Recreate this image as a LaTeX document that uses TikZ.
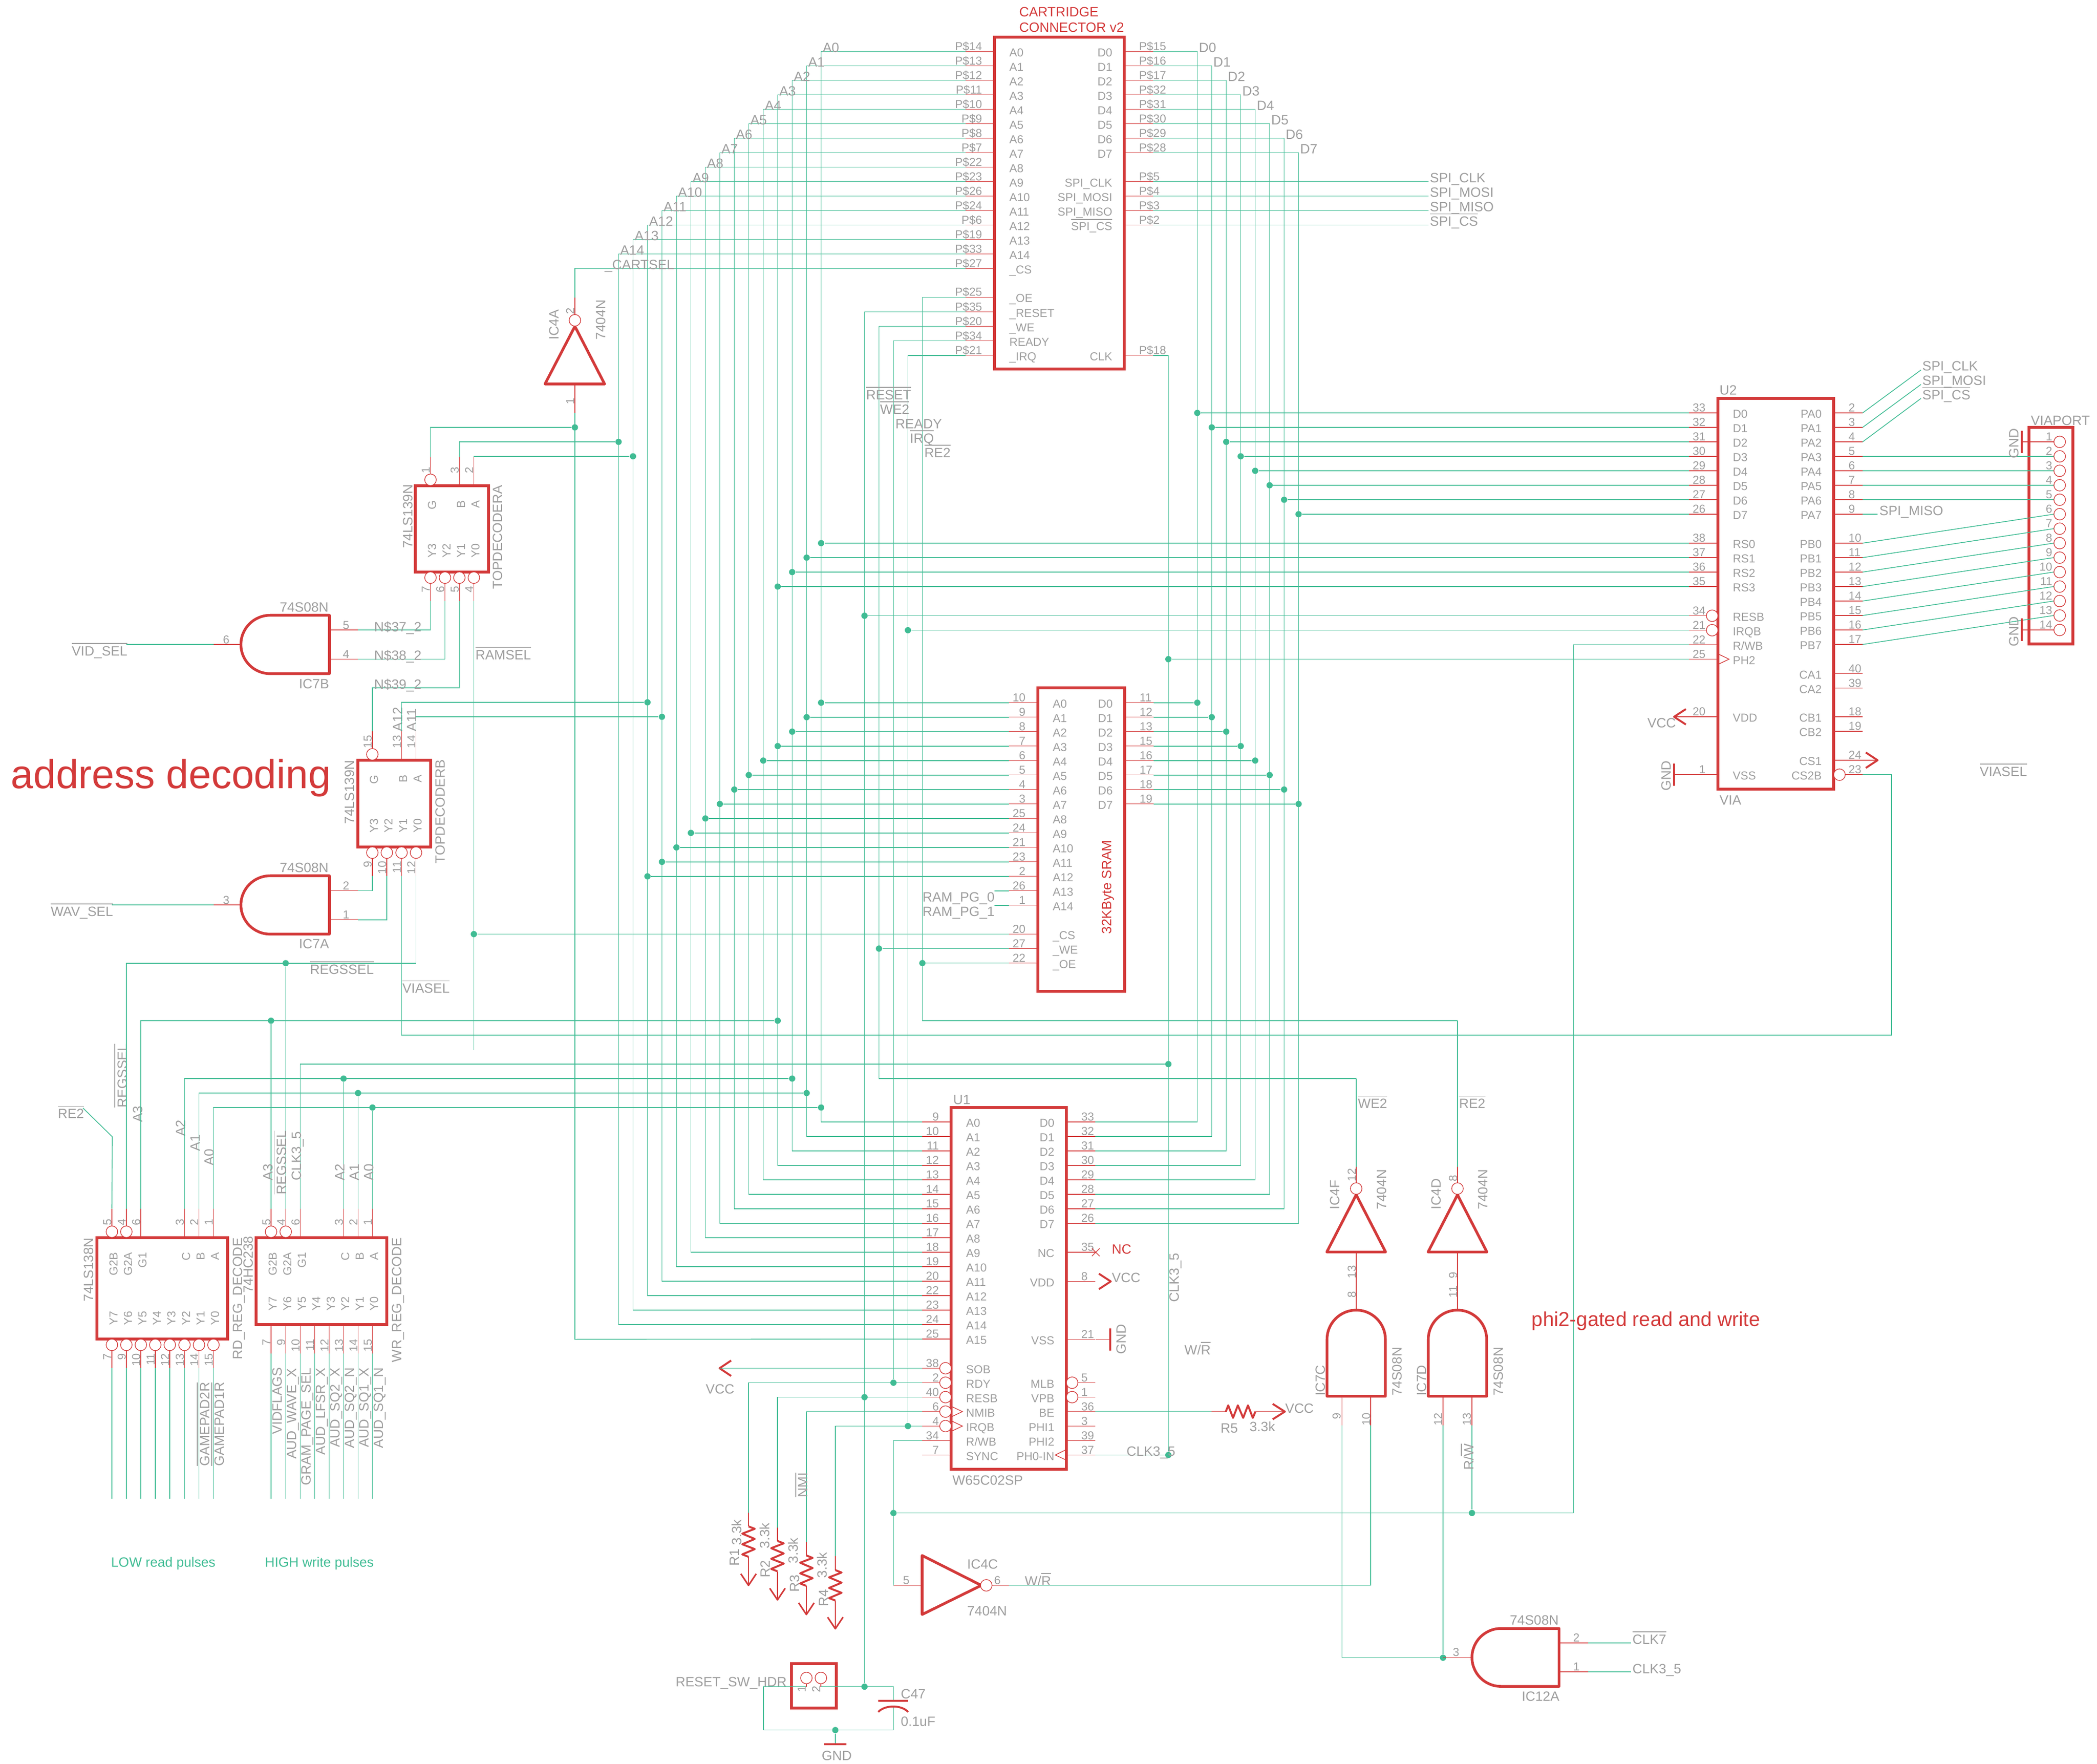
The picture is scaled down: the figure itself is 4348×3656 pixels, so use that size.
\documentclass[tikz,border=0pt]{standalone}
\usepackage{fontspec}
\setmainfont{Liberation Sans}
\definecolor{schred}{RGB}{211,58,58}
\definecolor{schgray}{RGB}{158,158,158}
\definecolor{wiregreen}{RGB}{64,188,148}
\tikzset{
	icbox/.style={draw=schred,line width=1.5pt,line join=miter},
	gatebody/.style={draw=schred,line width=1.4pt,line join=round},
	sym/.style={draw=schred,line width=1pt,line join=round},
	pinline/.style={draw=schred,line width=.35pt},
	wire/.style={draw=wiregreen,line width=.4pt},
	junc/.style={circle,fill=wiregreen,inner sep=0pt,minimum size=3.25pt},
	pintxt/.style={font=\fontsize{6}{7}\selectfont,text=schgray,inner sep=0pt,text height=4.3pt,text depth=0pt},
	nettxt/.style={font=\fontsize{7}{8}\selectfont,text=schgray,inner sep=0pt,text height=5pt,text depth=0pt},
	redtxt/.style={font=\fontsize{7}{8}\selectfont,text=schred,inner sep=0pt,text height=5pt,text depth=0pt},
	greentxt/.style={font=\fontsize{7}{8}\selectfont,text=wiregreen,inner sep=0pt,text height=5pt,text depth=0pt},
	vert/.style={rotate=90,anchor=west}
}
\newcommand{\ovl}[1]{$\overline{\hbox{#1}}$}
% id, box edge, row, name, number
\newcommand{\lpin}[5]{
	\coordinate (#1) at (#2-60,#3);
	\draw[pinline] (#2,#3) -- (#1);
	\node[pintxt,anchor=east] (#1n) at (#2-25,#3-11) {#5};
	\node[pintxt,anchor=west] (#1t) at (#2+30,#3+2) {#4};
}
\newcommand{\rpin}[5]{
	\coordinate (#1) at (#2+60,#3);
	\draw[pinline] (#2,#3) -- (#1);
	\node[pintxt,anchor=west] (#1n) at (#2+30,#3-11) {#5};
	\node[pintxt,anchor=east] (#1t) at (#2-24,#3+2) {#4};
}
% id, pin x, box edge, number, name
\newcommand{\tpin}[5]{
	\coordinate (#1) at (#2,#3-60);
	\draw[pinline] (#2,#3) -- (#1);
	\node[pintxt,vert] (#1n) at (#2-10,#3-24) {#4};
	\node[pintxt,rotate=90,anchor=east] (#1t) at (#2+3,#3+30) {#5};
}
\newcommand{\bpin}[5]{
	\coordinate (#1) at (#2,#3+60);
	\draw[pinline] (#2,#3) -- (#1);
	\node[pintxt,rotate=90,anchor=east] (#1n) at (#2-10,#3+29) {#4};
	\node[pintxt,vert] (#1t) at (#2+3,#3-28) {#5};
}
\newcommand{\bub}[2]{\draw[pinline,fill=white] (#1,#2) circle[radius=3pt];}
\newcommand{\clkl}[2]{\draw[pinline] (#1,#2-11) -- (#1+23,#2) -- (#1,#2+11);}
% left pointing and gate: right edge, centre row
\newcommand{\andl}[2]{\draw[gatebody] (#1-123,#2-60.5) -- (#1,#2-60.5) -- (#1,#2+60.5) -- (#1-123,#2+60.5) arc[start angle=270,end angle=90,radius=15.12pt];}
% up pointing and gate: centre x
\newcommand{\andu}[1]{\draw[gatebody] (#1-60.5,2894.6) -- (#1-60.5,2776.5) arc[start angle=180,end angle=0,radius=15.12pt] -- (#1+60.5,2894.6) -- cycle;}
\newcommand{\vres}[2]{\draw[sym,shift={(#1,#2)}] (0,0) -- (13,5) -- (-13,15) -- (13,26) -- (-13,37) -- (13,47) -- (-13,58) -- (0,63);}
\begin{document}
\begin{tikzpicture}[x=0.25pt,y=-0.25pt]
	\useasboundingbox (0,0) rectangle (4348,3656);

	% cartridge connector
	\draw[icbox] (2062,76.5) rectangle (2331,765);
	\node[redtxt,anchor=west] (cartname1) at (2112.5,24.5) {CARTRIDGE};
	\node[redtxt,anchor=west] (cartname2) at (2112.5,56) {CONNECTOR v2};
	\foreach \pnum [count=\i from 0, evaluate=\i as \py using 106.6+30*\i] in {14,13,12,11,10,9,8,7,22,23,26,24,6,19,33}
		\lpin{cartA\i}{2062}{\py}{A\i}{P\$\pnum};
	\foreach \nm/\pnum/\py/\id in {\_CS/27/556.6/cs,\_OE/25/616.3/oe,\_RESET/35/646.4/res,\_WE/20/676.5/we,READY/34/706.6/rdy,\_IRQ/21/736.7/irq}
		\lpin{cart\id}{2062}{\py}{\nm}{P\$\pnum};
	\foreach \pnum [count=\i from 0, evaluate=\i as \py using 106.6+30*\i] in {15,16,17,32,31,30,29,28}
		\rpin{cartD\i}{2331}{\py}{D\i}{P\$\pnum};
	\foreach \nm/\pnum/\py/\id in {SPI\_CLK/5/376.6/clk,SPI\_MOSI/4/406.6/mosi,SPI\_MISO/3/436.6/miso,\ovl{SPI\_CS}/2/466.6/spics,CLK/18/736.7/phi}
		\rpin{cart\id}{2331}{\py}{\nm}{P\$\pnum};
	\foreach \nm/\id [count=\i from 0, evaluate=\i as \py using 376.6+30*\i] in {SPI\_CLK/clk,SPI\_MOSI/mosi,SPI\_MISO/miso,\ovl{SPI\_CS}/spics}{
		\node[nettxt,anchor=west] (spil\i) at (2964,\py-8) {\nm};
		\coordinate (spie\i) at (2962,\py);
		\draw[wire] (cart\id) -- (spie\i);
	}

	% sram
	\draw[icbox] (2152,1425.8) rectangle (2332,2055);
	\node[redtxt,vert] (sramname) at (2294,1937) {32KByte SRAM};
	\foreach \pnum [count=\i from 0, evaluate=\i as \py using 1456.7+30*\i] in {10,9,8,7,6,5,4,3,25,24,21,23,2,26,1}
		\lpin{sA\i}{2152}{\py}{A\i}{\pnum};
	\foreach \pnum [count=\i from 0, evaluate=\i as \py using 1456.7+30*\i] in {11,12,13,15,16,17,18,19}
		\rpin{sD\i}{2332}{\py}{D\i}{\pnum};
	\lpin{scs}{2152}{1936.5}{\_CS}{20}
	\lpin{swe}{2152}{1966.5}{\_WE}{27}
	\lpin{soe}{2152}{1996.6}{\_OE}{22}
	\coordinate (pg0) at (2062,1846.7);
	\coordinate (pg1) at (2062,1876.7);
	\draw[wire] (sA13) -- (pg0);
	\draw[wire] (sA14) -- (pg1);
	\node[nettxt,anchor=east] (pg0l) at (2063,1859) {RAM\_PG\_0};
	\node[nettxt,anchor=east] (pg1l) at (2063,1889) {RAM\_PG\_1};

	% 6502
	\draw[icbox] (1972.4,2295.7) rectangle (2211,3045.7);
	\node[nettxt,anchor=west] (u1name) at (1975.5,2279) {U1};
	\node[nettxt,anchor=west] (u1part) at (1974,3068.6) {W65C02SP};
	\foreach \pnum [count=\i from 0, evaluate=\i as \py using 2326+30*\i] in {9,10,11,12,13,14,15,16,17,18,19,20,22,23,24,25}
		\lpin{uA\i}{1972.4}{\py}{A\i}{\pnum};
	\foreach \pnum [count=\i from 0, evaluate=\i as \py using 2326+30*\i] in {33,32,31,30,29,28,27,26}
		\rpin{uD\i}{2211}{\py}{D\i}{\pnum};
	\lpin{usob}{1972.4}{2836.5}{SOB}{38}
	\lpin{urdy}{1972.4}{2866.5}{RDY}{2}
	\lpin{uresb}{1972.4}{2896.4}{RESB}{40}
	\lpin{unmib}{1972.4}{2926.4}{NMIB}{6}
	\lpin{uirqb}{1972.4}{2956.4}{IRQB}{4}
	\lpin{urwb}{1972.4}{2986.4}{R/WB}{34}
	\lpin{usync}{1972.4}{3016.4}{SYNC}{7}
	\foreach \py in {2836.5,2866.5,2896.4,2926.4,2956.4}
		\bub{1960.4}{\py};
	\clkl{1972.4}{2926.4}
	\clkl{1972.4}{2956.4}
	\rpin{unc}{2211}{2596}{NC}{35}
	\rpin{uvdd}{2211}{2656.5}{VDD}{8}
	\rpin{uvss}{2211}{2776.5}{VSS}{21}
	\rpin{umlb}{2211}{2866.5}{MLB}{5}
	\rpin{uvpb}{2211}{2896.4}{VPB}{1}
	\rpin{ube}{2211}{2926.4}{BE}{36}
	\rpin{uphi1}{2211}{2956.4}{PHI1}{3}
	\rpin{uphi2}{2211}{2986.4}{PHI2}{39}
	\rpin{uphi0}{2211}{3016.4}{PH0-IN}{37}
	\bub{2223}{2866.5}
	\bub{2223}{2896.4}
	\draw[pinline] (2211,3005) -- (2188,3016.4) -- (2211,3027);
	\draw[pinline] (2264,2588) -- (2280,2604) (2264,2604) -- (2280,2588);
	\node[redtxt,anchor=west] (ncl) at (2304.6,2589) {NC};
	\draw[sym] (2278.5,2640.5) -- (2303,2656.5) -- (2278.5,2672.5);
	\node[nettxt,anchor=west] (vcc1) at (2304.6,2648) {VCC};
	\draw[sym] (2301.5,2753.6) -- (2301.5,2799.5);
	\draw[pinline] (2272,2776.5) -- (2301.5,2776.5);
	\node[nettxt,rotate=90] (gnd1) at (2324.5,2776) {GND};

	% via
	\draw[icbox] (3562,825.6) rectangle (3802,1636);
	\node[nettxt,anchor=west] (u2name) at (3564.5,808) {U2};
	\node[nettxt,anchor=west] (u2part) at (3564.5,1658) {VIA};
	\foreach \pnum [count=\i from 0, evaluate=\i as \py using 856+30*\i] in {33,32,31,30,29,28,27,26}
		\lpin{vD\i}{3562}{\py}{D\i}{\pnum};
	\foreach \pnum [count=\i from 0, evaluate=\i as \py using 1126+30*\i] in {38,37,36,35}
		\lpin{vRS\i}{3562}{\py}{RS\i}{\pnum};
	\lpin{vresb}{3562}{1276.5}{RESB}{34}
	\lpin{virqb}{3562}{1306.5}{IRQB}{21}
	\lpin{vrwb}{3562}{1336.5}{R/WB}{22}
	\lpin{vph2}{3562}{1366.5}{PH2}{25}
	\lpin{vvdd}{3562}{1486}{VDD}{20}
	\lpin{vvss}{3562}{1606}{VSS}{1}
	\bub{3550}{1276.5}
	\bub{3550}{1306.5}
	\clkl{3562}{1366.5}
	\foreach \pnum [count=\n from 2, evaluate=\n as \i using int(\n-2), evaluate=\n as \py using 856+30*(\n-2)] in {2,3,4,5,6,7,8,9}
		\rpin{vPA\i}{3802}{\py}{PA\i}{\pnum};
	\foreach \pnum [count=\n from 2, evaluate=\n as \i using int(\n-2), evaluate=\n as \py using 1126+30*(\n-2)] in {10,11,12,13,14,15,16,17}
		\rpin{vPB\i}{3802}{\py}{PB\i}{\pnum};
	\rpin{vca1}{3802}{1396.5}{CA1}{40}
	\rpin{vca2}{3802}{1426.5}{CA2}{39}
	\rpin{vcb1}{3802}{1486}{CB1}{18}
	\rpin{vcb2}{3802}{1516}{CB2}{19}
	\rpin{vcs1}{3802}{1576}{CS1}{24}
	\rpin{vcs2}{3802}{1606}{CS2B}{23}
	\bub{3814}{1606}
	\draw[sym] (3868.6,1560) -- (3893,1576) -- (3868.6,1592);
	\draw[pinline] (3862,1576) -- (3893,1576);
	\draw[sym] (3495.5,1470) -- (3471,1486) -- (3495.5,1502);
	\draw[pinline] (3502,1486) -- (3471,1486);
	\node[nettxt,anchor=west] (vcc2) at (3415,1498) {VCC};
	\draw[sym] (3471,1583) -- (3471,1629);
	\draw[pinline] (3502,1606) -- (3471,1606);
	\node[nettxt,rotate=90] (gnd2) at (3454,1608) {GND};
	\node[nettxt,anchor=west] (viasel1) at (4104,1599) {\ovl{VIASEL}};
	\coordinate (spiclk) at (3983,767);
	\coordinate (spimosi) at (3983,797);
	\coordinate (spics) at (3983,826);
	\coordinate (spimiso) at (3893,1066);
	\draw[wire] (vPA0) -- (spiclk);
	\draw[wire] (vPA1) -- (spimosi);
	\draw[wire] (vPA2) -- (spics);
	\draw[wire] (vPA7) -- (spimiso);
	\node[nettxt,anchor=west] (spiclkl) at (3985,758.7) {SPI\_CLK};
	\node[nettxt,anchor=west] (spimosil) at (3985,788.6) {SPI\_MOSI};
	\node[nettxt,anchor=west] (spicsl) at (3985,818.6) {\ovl{SPI\_CS}};
	\node[nettxt,anchor=west] (spimisol) at (3896,1058) {SPI\_MISO};

	% via port
	\draw[icbox] (4207,885.6) rectangle (4298.4,1335);
	\node[nettxt,anchor=west] (vpname) at (4210,871) {VIAPORT};
	\foreach \n [evaluate=\n as \py using 916+30*(\n-1)] in {1,...,14}{
		\coordinate (vp\n) at (4258,\py);
		\node[pintxt,anchor=east] (vp\n n) at (4256,\py-11) {\n};
		\bub{4270.6}{\py}
	}
	\foreach \i [evaluate=\i as \n using int(\i+2)] in {0,1,2,3}{
		\pgfmathtruncatemacro{\k}{\i+3}
		\draw[wire] (vPA\k) -- (vp\n);
	}
	\foreach \i [evaluate=\i as \n using int(\i+6)] in {0,...,7}
		\draw[wire] (vPB\i) -- (vp\n);
	\draw[pinline] (vp1) -- (4192,916);
	\draw[pinline] (vp14) -- (4192,1306);
	\draw[sym] (4192,893) -- (4192,939);
	\draw[sym] (4192,1282) -- (4192,1329);
	\node[nettxt,rotate=90] (gnd3) at (4175,919) {GND};
	\node[nettxt,rotate=90] (gnd4) at (4175,1309) {GND};

	% junctions
	\foreach \i [evaluate=\i as \bx using 1702.5-30*\i, evaluate=\i as \py using 1456.7+30*\i] in {0,...,12}
		\node[junc] (jsA\i) at (\bx,\py) {};
	\foreach \i [evaluate=\i as \bx using 2482.5+30*\i, evaluate=\i as \py using 1456.7+30*\i, evaluate=\i as \vy using 856+30*\i] in {0,...,7}{
		\node[junc] (jsD\i) at (\bx,\py) {};
		\node[junc] (jvD\i) at (\bx,\vy) {};
	}
	\foreach \i [evaluate=\i as \bx using 1702.5-30*\i, evaluate=\i as \py using 1126+30*\i] in {0,...,3}
		\node[junc] (jvR\i) at (\bx,\py) {};
	\node[junc] (jcs) at (1192,886) {};
	\node[junc] (ja14) at (1282.5,916) {};
	\node[junc] (ja13) at (1312.5,946) {};
	\node[junc] (ja12) at (1342.5,1456) {};
	\node[junc] (ja11) at (1372.5,1486) {};
	\node[junc] (jram) at (982.5,1936.5) {};
	\node[junc] (jreg) at (592.4,1996.8) {};
	\node[junc] (jres1) at (1792.5,1276.5) {};
	\node[junc] (jres2) at (1792.5,2896.4) {};
	\node[junc] (jres3) at (1792.5,3496.6) {};
	\node[junc] (jirq1) at (1882.5,1306.5) {};
	\node[junc] (jirq2) at (1882.5,2956.4) {};
	\node[junc] (jrdy) at (1852.5,2866.5) {};
	\node[junc] (jwe) at (1822.5,1966.5) {};
	\node[junc] (joe) at (1912.5,1996.6) {};
	\node[junc] (jclk1) at (2422.5,1366.5) {};
	\node[junc] (jclk2) at (2422.5,2206) {};
	\node[junc] (jclk3) at (2422.5,3016.4) {};
	\node[junc] (jra3) at (1612.5,2116) {};
	\node[junc] (jra2) at (1642.5,2236) {};
	\node[junc] (jra1) at (1672.5,2266) {};
	\node[junc] (jra0) at (1702.5,2296) {};
	\node[junc] (jwa3) at (562,2116) {};
	\node[junc] (jwa2) at (712.4,2236) {};
	\node[junc] (jwa1) at (742.4,2266) {};
	\node[junc] (jwa0) at (772.3,2296) {};
	\node[junc] (jrw1) at (1852.5,3136.6) {};
	\node[junc] (jrw2) at (3052,3136.6) {};
	\node[junc] (jclk7) at (2992,3436.6) {};
	\node[junc] (jgnd) at (1732,3586.6) {};

	% address and data buses
	\foreach \i [evaluate=\i as \bx using 1702.5-30*\i, evaluate=\i as \ty using 106.6+30*\i, evaluate=\i as \uy using 2326+30*\i] in {0,...,14}{
		\coordinate (busA\i) at (\bx,\ty);
		\coordinate (bueA\i) at (\bx,\uy);
		\draw[wire] (cartA\i) -- (busA\i) -- (bueA\i) -- (uA\i);
		\node[nettxt,anchor=west] (lblA\i) at (\bx+2.5,\ty-8) {A\i};
	}
	\foreach \i [evaluate=\i as \bx using 2482.5+30*\i, evaluate=\i as \ty using 106.6+30*\i, evaluate=\i as \uy using 2326+30*\i] in {0,...,7}{
		\coordinate (busD\i) at (\bx,\ty);
		\coordinate (bueD\i) at (\bx,\uy);
		\draw[wire] (cartD\i) -- (busD\i) -- (bueD\i) -- (uD\i);
		\node[nettxt,anchor=west] (lblD\i) at (\bx+2.5,\ty-8) {D\i};
		\draw[wire] (jvD\i) -- (vD\i);
		\draw[wire] (sD\i) -- (jsD\i);
	}
	\foreach \i in {0,...,12}
		\draw[wire] (jsA\i) -- (sA\i);
	\foreach \i in {0,...,3}
		\draw[wire] (jvR\i) -- (vRS\i);

	% cartridge control lines
	\coordinate (csc) at (1192,556.6);
	\coordinate (a15c) at (1192,2776.5);
	\coordinate (oec) at (1912.5,616.3);
	\coordinate (oec2) at (1912.5,2116);
	\coordinate (re2c) at (3022,2116);
	\coordinate (resc) at (1792.5,646.4);
	\coordinate (wec) at (1822.5,676.5);
	\coordinate (wec2) at (1822.5,2236);
	\coordinate (we2c) at (2812,2236);
	\coordinate (rdyc) at (1852.5,706.6);
	\coordinate (irqc) at (1882.5,736.7);
	\coordinate (clkc) at (2422.5,736.7);
	\coordinate (rwc) at (3262.5,3136.6);
	\coordinate (rwc2) at (3262.5,1336.5);
	\coordinate (viac1) at (832.6,2146);
	\coordinate (viac2) at (3922,2146);
	\coordinate (viac3) at (3922,1606);
	\coordinate (ramend) at (982.5,2177);
	\draw[wire] (cartoe) -- (oec) -- (oec2) -- (re2c);
	\draw[wire] (cartres) -- (resc) -- (jres3);
	\draw[wire] (cartwe) -- (wec) -- (wec2) -- (we2c);
	\draw[wire] (cartrdy) -- (rdyc) -- (jrdy);
	\draw[wire] (cartirq) -- (irqc) -- (jirq2);
	\draw[wire] (cartphi) -- (clkc) -- (jclk3) -- (uphi0);
	\draw[wire] (jres1) -- (vresb);
	\draw[wire] (jirq1) -- (virqb);
	\draw[wire] (jclk1) -- (vph2);
	\draw[wire] (jwe) -- (swe);
	\draw[wire] (joe) -- (soe);
	\draw[wire] (jram) -- (scs);
	\draw[wire] (jrw1) -- (rwc) -- (rwc2) -- (vrwb);

	\node[nettxt,anchor=west] (rstl) at (1795,818) {\ovl{RESET}};
	\node[nettxt,anchor=west] (we2l) at (1824,848) {\ovl{WE2}};
	\node[nettxt,anchor=west] (rdyl) at (1855.7,878) {READY};
	\node[nettxt,anchor=west] (irql) at (1885.7,908) {\ovl{IRQ}};
	\node[nettxt,anchor=west] (re2l) at (1915.7,938) {\ovl{RE2}};

	% cartsel inverter
	\draw[gatebody] (1192,676.5) -- (1253.6,796) -- (1130,796) -- cycle;
	\coordinate (ic4a2) at (1192,617);
	\coordinate (ic4a1) at (1192,856);
	\draw[pinline] (1192,652) -- (ic4a2);
	\draw[pinline] (1192,796) -- (ic4a1);
	\bub{1192}{664}
	\node[pintxt,rotate=90] (ic4an2) at (1182,645) {2};
	\node[pintxt,rotate=90] (ic4an1) at (1182,832) {1};
	\node[nettxt,vert] (ic4aname) at (1148,705) {IC4A};
	\node[nettxt,vert] (ic4apart) at (1245,705) {7404N};
	\draw[wire] (cartcs) -- (csc) -- (ic4a2);
	\draw[wire] (ic4a1) -- (a15c) -- (uA15);
	\node[nettxt,anchor=west] (cartsell) at (1253,548.5) {\_CARTSEL};

	% top decoder A
	\draw[icbox] (861,1006.6) rectangle (1012.5,1185.5);
	\tpin{dagn}{892.6}{1006.6}{1}{G}
	\tpin{dab}{952.5}{1006.6}{3}{B}
	\tpin{daa}{982.5}{1006.6}{2}{A}
	\bpin{day3}{892.6}{1185.5}{7}{Y3}
	\bpin{day2}{922.6}{1185.5}{6}{Y2}
	\bpin{day1}{952.5}{1185.5}{5}{Y1}
	\bpin{day0}{982.5}{1185.5}{4}{Y0}
	\bub{892.6}{994.6}
	\foreach \nx in {892.6,922.6,952.5,982.5}
		\bub{\nx}{1197.5};
	\node[nettxt,vert] (dapart) at (845,1137.6) {74LS139N};
	\node[nettxt,vert] (daname) at (1031.6,1222) {TOPDECODERA};
	\node[nettxt,anchor=west] (ramsell) at (985,1357.7) {\ovl{RAMSEL}};

	% top decoder B
	\draw[icbox] (741.5,1575.8) rectangle (892.6,1755.6);
	\tpin{dbgn}{772}{1575.8}{15}{G}
	\tpin{dbb}{832.6}{1575.8}{13}{B}
	\tpin{dba}{862.6}{1575.8}{14}{A}
	\bpin{dby3}{772}{1755.6}{9}{Y3}
	\bpin{dby2}{802}{1755.6}{10}{Y2}
	\bpin{dby1}{832.6}{1755.6}{11}{Y1}
	\bpin{dby0}{862.6}{1755.6}{12}{Y0}
	\bub{772}{1563.8}
	\foreach \nx in {772,802,832.6,862.6}
		\bub{\nx}{1767.6};
	\node[nettxt,vert] (dbpart) at (724.5,1709) {74LS139N};
	\node[nettxt,vert] (dbname) at (912,1791) {TOPDECODERB};
	\node[nettxt,vert] (dba12) at (824,1517) {A12};
	\node[nettxt,vert] (dba11) at (853.6,1517) {A11};
	\node[font=\fontsize{21}{24}\selectfont,text=schred,inner sep=0pt,anchor=base west] (addrdec) at (22,1634.6) {address decoding};

	% select gates
	\andl{683}{1336}
	\coordinate (b6) at (443,1336);
	\coordinate (b5) at (742,1306);
	\coordinate (b4) at (742,1366.5);
	\draw[pinline] (500.6,1336) -- (b6);
	\draw[pinline] (683,1306) -- (b5);
	\draw[pinline] (683,1366.5) -- (b4);
	\node[pintxt] (b6n) at (469,1325.7) {6};
	\node[pintxt] (b5n) at (717.6,1296) {5};
	\node[pintxt] (b4n) at (717.6,1355.6) {4};
	\node[nettxt,anchor=east] (bpart) at (682,1258.6) {74S08N};
	\node[nettxt,anchor=east] (bname) at (683,1417) {IC7B};
	\coordinate (vidsel) at (262,1336);
	\draw[wire] (b6) -- (vidsel);
	\node[nettxt,anchor=west] (vidsell) at (148,1349) {\ovl{VID\_SEL}};

	\andl{683}{1876}
	\coordinate (a3) at (443,1876);
	\coordinate (a2) at (742,1846.5);
	\coordinate (a1) at (742,1906.7);
	\draw[pinline] (500.6,1876) -- (a3);
	\draw[pinline] (683,1846.5) -- (a2);
	\draw[pinline] (683,1906.7) -- (a1);
	\node[pintxt] (a3n) at (469,1866) {3};
	\node[pintxt] (a2n) at (717.6,1835.5) {2};
	\node[pintxt] (a1n) at (717.6,1896) {1};
	\node[nettxt,anchor=east] (apart) at (682,1798.7) {74S08N};
	\node[nettxt,anchor=east] (aname) at (683,1956.6) {IC7A};
	\coordinate (wavsel) at (232,1876);
	\draw[wire] (a3) -- (wavsel);
	\node[nettxt,anchor=west] (wavsell) at (104.5,1889) {\ovl{WAV\_SEL}};

	% decoder wiring
	\draw[wire] (dagn) |- (jcs);
	\draw[wire] (dab) |- (ja14);
	\draw[wire] (daa) |- (ja13);
	\draw[wire] (day3) |- (b5);
	\draw[wire] (day2) |- (b4);
	\coordinate (n39a) at (952.5,1426);
	\coordinate (n39b) at (772,1426);
	\draw[wire] (day1) -- (n39a) -- (n39b) -- (dbgn);
	\draw[wire] (day0) -- (ramend);
	\draw[wire] (dbb) |- (ja12);
	\draw[wire] (dba) |- (ja11);
	\draw[wire] (dby3) |- (a2);
	\draw[wire] (dby2) |- (a1);
	\draw[wire] (dby1) -- (viac1) -- (viac2) -- (viac3) -- (vcs2);
	\node[nettxt,anchor=west] (n37l) at (775,1299) {N\$37\_2};
	\node[nettxt,anchor=west] (n38l) at (775,1358.4) {N\$38\_2};
	\node[nettxt,anchor=west] (n39l) at (775,1418) {N\$39\_2};
	\node[nettxt,anchor=west] (regl) at (642,2009) {\ovl{REGSSEL}};
	\node[nettxt,anchor=west] (vial) at (833.5,2048.5) {\ovl{VIASEL}};

	% read decoder
	\draw[icbox] (201,2565.5) rectangle (472,2776);
	\foreach \nx/\nn/\nm/\id in {232/5/G2B/a,262/4/G2A/b,292/6/G1/c,382.6/3/C/d,412.6/2/B/e,442.6/1/A/f}
		\tpin{rt\id}{\nx}{2565.5}{\nn}{\nm};
	\foreach \nx/\nn/\nm in {232/7/Y7,262/9/Y6,292/10/Y5,322/11/Y4,352/12/Y3,382.6/13/Y2,412.6/14/Y1,442.6/15/Y0}{
		\bpin{rb\nn}{\nx}{2776}{\nn}{\nm}
		\bub{\nx}{2788}
		\coordinate (rend\nn) at (\nx,3107);
		\draw[wire] (rb\nn) -- (rend\nn);
	}
	\bub{232}{2553.5}
	\bub{262}{2553.5}
	\node[nettxt,vert] (rdpart) at (183.7,2699) {74LS138N};
	\node[nettxt,vert] (rdname) at (492,2819) {RD\_REG\_DECODE};
	\node[nettxt,vert] (rdpart2) at (514,2681.6) {74HC238};
	\node[nettxt,vert] (rdl1) at (253,2297) {\ovl{REGSSEL}};
	\node[nettxt,vert] (rdl2) at (285,2327.5) {A3};
	\node[nettxt,vert] (rdl3) at (374,2356.6) {A2};
	\node[nettxt,vert] (rdl4) at (404,2387) {A1};
	\node[nettxt,vert] (rdl5) at (433.7,2417) {A0};
	\node[nettxt,vert] (gp2) at (424,3040) {\ovl{GAMEPAD2R}};
	\node[nettxt,vert] (gp1) at (454,3040) {\ovl{GAMEPAD1R}};
	\coordinate (re2a) at (232.8,2356.6);
	\coordinate (re2b) at (172,2297);
	\draw[wire] (rta) -- (re2a) -- (re2b);
	\node[nettxt,anchor=west] (re2t) at (119,2308.5) {\ovl{RE2}};
	\coordinate (regc) at (862.6,1996.8);
	\coordinate (regd) at (262,1996.8);
	\draw[wire] (dby0) -- (regc) -- (regd) -- (rtb);
	\draw[wire] (rtc) |- (jra3);
	\draw[wire] (rtd) |- (jra2);
	\draw[wire] (rte) |- (jra1);
	\draw[wire] (rtf) |- (jra0);
	\node[greentxt,anchor=west] (lowl) at (229.6,3238) {LOW read pulses};

	% write decoder
	\draw[icbox] (531,2565.5) rectangle (802,2746);
	\foreach \nx/\nn/\nm/\id in {562/5/G2B/a,592.4/4/G2A/b,622.5/6/G1/c,712.4/3/C/d,742.4/2/B/e,772.3/1/A/f}
		\tpin{wt\id}{\nx}{2565.5}{\nn}{\nm};
	\foreach \nx/\nn/\nm in {562/7/Y7,592.4/9/Y6,622.5/10/Y5,652.4/11/Y4,682.4/12/Y3,712.4/13/Y2,742.4/14/Y1,772.3/15/Y0}{
		\bpin{wb\nn}{\nx}{2746}{\nn}{\nm}
		\coordinate (wend\nn) at (\nx,3107);
		\draw[wire] (wb\nn) -- (wend\nn);
	}
	\bub{562}{2553.5}
	\bub{592.4}{2553.5}
	\node[nettxt,vert] (wrname) at (822.7,2825) {WR\_REG\_DECODE};
	\draw[wire] (wta) -- (jwa3);
	\draw[wire] (wtb) -- (jreg);
	\draw[wire] (wtc) |- (jclk2);
	\draw[wire] (wtd) -- (jwa2);
	\draw[wire] (wte) -- (jwa1);
	\draw[wire] (wtf) -- (jwa0);
	\node[nettxt,vert] (wrl1) at (555,2448) {A3};
	\node[nettxt,vert] (wrl2) at (583.5,2477) {\ovl{REGSSEL}};
	\node[nettxt,vert] (wrl3) at (614,2448) {CLK3\_5};
	\node[nettxt,vert] (wrl4) at (704,2448) {A2};
	\node[nettxt,vert] (wrl5) at (734.7,2448) {A1};
	\node[nettxt,vert] (wrl6) at (764,2448) {A0};
	\node[nettxt,vert] (wo1) at (574,2974) {VIDFLAGS};
	\node[nettxt,vert] (wo2) at (604,3025.7) {AUD\_WAVE\_X};
	\node[nettxt,vert] (wo3) at (634.6,3080) {GRAM\_PAGE\_SEL};
	\node[nettxt,vert] (wo4) at (664.5,3017.4) {AUD\_LFSR\_X};
	\node[nettxt,vert] (wo5) at (694,3001.7) {AUD\_SQ2\_X};
	\node[nettxt,vert] (wo6) at (724,3003) {AUD\_SQ2\_N};
	\node[nettxt,vert] (wo7) at (754,3001.7) {AUD\_SQ1\_X};
	\node[nettxt,vert] (wo8) at (784,3003) {AUD\_SQ1\_N};
	\node[greentxt,anchor=west] (highl) at (548.5,3238) {HIGH write pulses};

	% area around the 6502
	\draw[sym] (1516,2820.5) -- (1492,2836.5) -- (1516,2852.5);
	\coordinate (vcc3c) at (1492,2836.5);
	\draw[wire] (usob) -- (vcc3c);
	\node[nettxt] (vcc3) at (1493,2879) {VCC};
	\coordinate (rdy1) at (1552,2866.5);
	\coordinate (rdy2) at (1552,3136);
	\coordinate (res1) at (1612,2896.4);
	\coordinate (res2) at (1612,3166.5);
	\coordinate (nmi1) at (1672,2926.4);
	\coordinate (nmi2) at (1672,3196.6);
	\coordinate (irq1) at (1732,2956.4);
	\coordinate (irq2) at (1732,3226);
	\draw[wire] (urdy) -- (rdy1) -- (rdy2);
	\draw[wire] (uresb) -- (res1) -- (res2);
	\draw[wire] (unmib) -- (nmi1) -- (nmi2);
	\draw[wire] (uirqb) -- (irq1) -- (irq2);
	\node[nettxt,vert] (nmil) at (1664.7,3105) {\ovl{NMI}};
	\foreach \nx/\ya/\yb/\yc/\nm/\lx/\ly/\vx/\vy in {1552/3136/3164.4/3286.6/R1/1522/3247/1527/3204,1612/3166.5/3194.5/3316.7/R2/1586/3271/1585/3211,1672/3196.6/3224.7/3347/R3/1647/3301/1644/3242,1732/3226/3255/3376.6/R4/1707/3331/1704/3272}{
		\draw[pinline] (\nx,\ya) -- (\nx,\yb);
		\draw[pinline] (\nx,\yb+63) -- (\nx,\yc);
		\vres{\nx}{\yb}
		\draw[sym,line width=.8pt] (\nx-16,\yc-24) -- (\nx,\yc) -- (\nx+16,\yc-24);
		\node[nettxt,vert] (\nm name) at (\lx,\ly) {\nm};
		\node[nettxt,vert] (\nm val) at (\vx,\vy) {3.3k};
	}

	% r5 and vcc
	\coordinate (r5a) at (2512,2926.4);
	\draw[wire] (ube) -- (r5a);
	\draw[pinline] (r5a) -- (2541.6,2926.4);
	\draw[sym,shift={(2541.6,2926.4)}] (0,0) -- (5,-13) -- (15,13) -- (25,-13) -- (36,13) -- (46,-13) -- (56,13) -- (61.4,0);
	\draw[pinline] (2603,2926.4) -- (2664,2926.4);
	\draw[sym] (2638.8,2910.4) -- (2664,2926.4) -- (2638.8,2942.4);
	\node[nettxt,anchor=west] (r5name) at (2530,2960.7) {R5};
	\node[nettxt,anchor=west] (r5val) at (2590,2957) {3.3k};
	\node[nettxt,anchor=west] (vcc4) at (2664,2919) {VCC};
	\node[nettxt,anchor=west] (wrl) at (2455,2798) {W/\ovl{R}};
	\node[nettxt,vert] (clkv) at (2434,2700) {CLK3\_5};
	\node[nettxt,anchor=west] (clkh) at (2335,3008.7) {CLK3\_5};

	% r/w inverter
	\draw[gatebody] (1912,3224.7) -- (2034.6,3286.6) -- (1912,3347) -- cycle;
	\coordinate (ic4c5) at (1852.5,3286.6);
	\coordinate (ic4c6) at (2092,3286.6);
	\draw[pinline] (1912,3286.6) -- (ic4c5);
	\draw[pinline] (2057,3286.6) -- (ic4c6);
	\bub{2045}{3286.6}
	\node[pintxt] (ic4cn5) at (1879,3276) {5};
	\node[pintxt] (ic4cn6) at (2068,3276) {6};
	\node[nettxt,anchor=west] (ic4cname) at (2004.6,3242) {IC4C};
	\node[nettxt,anchor=west] (ic4cpart) at (2004.6,3339) {7404N};
	\node[nettxt,anchor=west] (wrbl) at (2124,3277) {W/\ovl{R}};
	\draw[wire] (urwb) -| (ic4c5);

	% gated read and write
	\foreach \cx/\nm/\pa/\pb/\pc/\pd in {2812/F/12/13/8/C,3022/D/8/9/11/D}{
		\draw[gatebody] (\cx,2477) -- (\cx+61,2595.5) -- (\cx-61,2595.5) -- cycle;
		\coordinate (inv\nm) at (\cx,2419);
		\draw[pinline] (\cx,2452) -- (inv\nm);
		\draw[pinline] (\cx,2595.5) -- (\cx,2716);
		\bub{\cx}{2464}
		\node[pintxt,vert] (inv\nm a) at (\cx-9.5,2450) {\pa};
		\node[pintxt,vert] (inv\nm b) at (\cx-9.5,2651) {\pb};
		\node[pintxt,vert] (inv\nm c) at (\cx-9.5,2691) {\pc};
		\node[nettxt,vert] (inv\nm n) at (\cx-45,2508) {IC4\nm};
		\node[nettxt,vert] (inv\nm p) at (\cx+52.5,2508) {7404N};
		\andu{\cx}
		\node[nettxt,vert] (and\nm n) at (\cx-74.5,2894.6) {IC7\pd};
		\node[nettxt,vert] (and\nm p) at (\cx+84,2894.6) {74S08N};
	}
	\draw[wire] (invF) -- (we2c);
	\draw[wire] (invD) -- (re2c);
	\node[nettxt,anchor=west] (we2m) at (2814.8,2287.5) {\ovl{WE2}};
	\node[nettxt,anchor=west] (re2m) at (3024.5,2287.5) {\ovl{RE2}};
	\coordinate (p9) at (2782.6,2954.6);
	\coordinate (p10) at (2842,2954.6);
	\coordinate (p12) at (2992,2954.6);
	\coordinate (p13) at (3052,2954.6);
	\draw[pinline] (2782.6,2894.6) -- (p9);
	\draw[pinline] (2842,2894.6) -- (p10);
	\draw[pinline] (2992,2894.6) -- (p12);
	\draw[pinline] (3052,2894.6) -- (p13);
	\node[pintxt,rotate=90,anchor=east] (p9n) at (2771,2928) {9};
	\node[pintxt,rotate=90,anchor=east] (p10n) at (2832.4,2928) {10};
	\node[pintxt,rotate=90,anchor=east] (p12n) at (2981.6,2928) {12};
	\node[pintxt,rotate=90,anchor=east] (p13n) at (3041,2928) {13};
	\draw[wire] (p9) |- (jclk7);
	\draw[wire] (p12) -- (jclk7);
	\draw[wire] (ic4c6) -| (p10);
	\draw[wire] (p13) -- (jrw2);
	\node[nettxt,vert] (rwl) at (3045,3048) {R/\ovl{W}};
	\node[font=\fontsize{10.45}{12}\selectfont,text=schred,inner sep=0pt,anchor=base west] (phil) at (3175,2749) {phi2-gated read and write};

	% clock gate
	\draw[gatebody] (3112,3376) -- (3232.6,3376) -- (3232.6,3496) -- (3112,3496) arc[start angle=270,end angle=90,radius=15pt];
	\coordinate (c3) at (2992,3436.6);
	\coordinate (c2) at (3293,3406);
	\coordinate (c1) at (3293,3466);
	\draw[pinline] (3052,3436.6) -- (c3);
	\draw[pinline] (3232.6,3406) -- (c2);
	\draw[pinline] (3232.6,3466) -- (c1);
	\node[pintxt] (c3n) at (3019,3425) {3};
	\node[pintxt] (c2n) at (3268.6,3394.6) {2};
	\node[pintxt] (c1n) at (3268.6,3455) {1};
	\node[nettxt,anchor=east] (cpart) at (3232.6,3358) {74S08N};
	\node[nettxt,anchor=east] (cname) at (3234,3516) {IC12A};
	\coordinate (clk7) at (3382,3406);
	\coordinate (clk35) at (3382,3466);
	\draw[wire] (c2) -- (clk7);
	\draw[wire] (c1) -- (clk35);
	\node[nettxt,anchor=west] (clk7l) at (3384,3398) {\ovl{CLK7}};
	\node[nettxt,anchor=west] (clk35l) at (3384,3459) {CLK3\_5};

	% reset header and capacitor
	\draw[icbox] (1641,3448.5) rectangle (1733.5,3541);
	\coordinate (hdr1) at (1672,3496.6);
	\coordinate (hdr2) at (1702,3496.6);
	\draw[pinline] (1672,3490) -- (hdr1);
	\draw[pinline] (1702,3490) -- (hdr2);
	\bub{1672}{3478.6}
	\bub{1702}{3478.6}
	\node[pintxt,rotate=90] (hdr1n) at (1662,3502) {1};
	\node[pintxt,rotate=90] (hdr2n) at (1692,3502) {2};
	\node[nettxt,anchor=west] (hdrl) at (1400,3486) {RESET\_SW\_HDR};
	\coordinate (hl1) at (1583,3496.6);
	\coordinate (hl2) at (1583,3586.6);
	\coordinate (cp1) at (1852.5,3496.6);
	\coordinate (cp2) at (1852.5,3526);
	\coordinate (cp3) at (1852.5,3538);
	\coordinate (cp4) at (1852.5,3586.6);
	\coordinate (gndp) at (1732,3616);
	\draw[wire] (hdr1) -- (hl1) -- (hl2) -- (jgnd) -- (cp4) -- (cp3);
	\draw[wire] (hdr2) -- (cp1) -- (cp2);
	\draw[wire] (jgnd) -- (gndp);
	\draw[sym] (1821,3526) -- (1883,3526);
	\draw[sym] (1821,3549) .. controls (1835,3534) and (1869,3534) .. (1883,3549);
	\draw[sym] (1709,3616) -- (1755,3616);
	\node[nettxt] (gnd5) at (1735,3639) {GND};
	\node[nettxt,anchor=west] (c47) at (1867,3511) {C47};
	\node[nettxt,anchor=west] (c47v) at (1867,3568) {0.1uF};
\end{tikzpicture}
\end{document}
